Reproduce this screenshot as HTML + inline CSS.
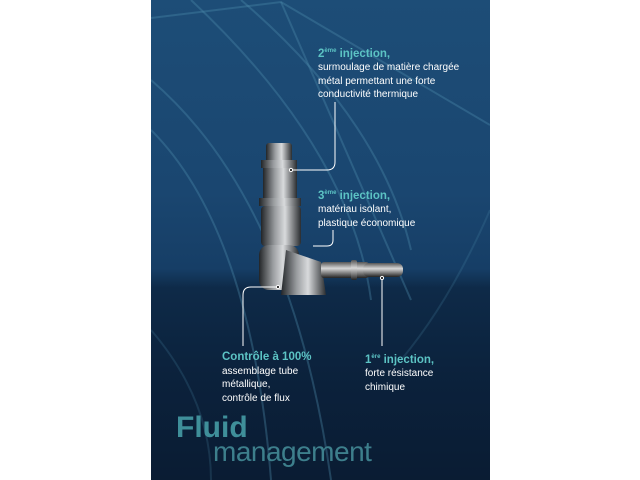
<!DOCTYPE html>
<html><head><meta charset="utf-8"><style>
body{margin:0;width:640px;height:480px;background:#fff;overflow:hidden;position:relative;font-family:"Liberation Sans",sans-serif}
#p{position:absolute;left:151px;top:0;width:339px;height:480px;background:linear-gradient(#1d4d77 0%,#1a4670 40%,#163e66 56%,#0e2a48 60%,#0b213b 80%,#0a1c33 100%);overflow:hidden}
.t{position:absolute;color:#fff;font-size:10px;line-height:13.5px}
.t b{color:#5cc3c4;font-size:11.5px}
.t sup{font-size:6px;color:#5cc3c4;font-weight:bold}
</style></head><body>
<div id="p">
<svg width="339" height="480" style="position:absolute;left:0;top:0">
<defs>
<linearGradient id="m" x1="0" x2="1"><stop offset="0" stop-color="#222528"/><stop offset=".35" stop-color="#9a9da0"/><stop offset=".6" stop-color="#d8dadc"/><stop offset="1" stop-color="#2a2d30"/></linearGradient>
<linearGradient id="h" x1="0" y1="0" x2="0" y2="1"><stop offset="0" stop-color="#555"/><stop offset=".4" stop-color="#d8d8d8"/><stop offset="1" stop-color="#222"/></linearGradient>
</defs>
<g fill="none" stroke="#4f8fb0" stroke-opacity=".35" stroke-width="2">
<path d="M0 18 L130 2 L339 125"/>
<path d="M130 2 L260 300"/>
<path d="M0 80 Q140 200 180 480"/>
<path d="M0 130 Q100 230 120 480"/>
<path d="M40 0 Q200 150 220 300"/>
<path d="M90 0 Q230 120 260 250"/>
<path d="M0 330 Q60 400 60 480" stroke-opacity=".2"/>
<path d="M339 210 Q300 300 250 360" stroke-opacity=".2"/>
</g>
<rect x="115" y="143" width="26" height="20" rx="3" fill="url(#m)"/>
<rect x="110" y="160" width="36" height="8" fill="url(#m)"/>
<rect x="112" y="168" width="34" height="30" fill="url(#m)"/>
<rect x="108" y="198" width="42" height="8" fill="url(#m)"/>
<rect x="110" y="206" width="40" height="40" rx="4" fill="url(#m)"/>
<rect x="108" y="245" width="40" height="45" rx="10" fill="url(#m)"/>
<path d="M135 250 L170 262 L175 295 L130 295 Z" fill="url(#m)"/>
<rect x="170" y="262" width="48" height="16" rx="3" fill="url(#h)"/>
<rect x="200" y="260" width="6" height="20" rx="2" fill="url(#h)"/>
<rect x="212" y="263" width="40" height="14" rx="6" fill="url(#h)"/>
<g fill="none" stroke="#fff" stroke-width="1">
<path d="M184 102 V162 Q184 170 176 170 H140"/>
<path d="M182 230 V240 Q182 246 176 246 H162"/>
<path d="M127 287 H100 Q92 287 92 295 V346"/>
<path d="M231 278 V346"/>
</g>
<g fill="#222" stroke="#fff" stroke-width="1"><circle cx="140" cy="170" r="1.6"/><circle cx="127" cy="287" r="1.6"/><circle cx="231" cy="278" r="1.6"/></g>
</svg>
<div class="t" style="left:167px;top:45px"><b>2<sup>ème</sup> injection,</b><br>surmoulage de matière chargée<br>métal permettant une forte<br>conductivité thermique</div>
<div class="t" style="left:167px;top:187px"><b>3<sup>ème</sup> injection,</b><br>matériau isolant,<br>plastique économique</div>
<div class="t" style="left:71px;top:351px"><b>Contrôle à 100%</b><br>assemblage tube<br>métallique,<br>contrôle de flux</div>
<div class="t" style="left:214px;top:351px"><b>1<sup>ère</sup> injection,</b><br>forte résistance<br>chimique</div>
<div style="position:absolute;left:25px;top:411px;font-size:30px;font-weight:bold;color:#3f8f9a">Fluid</div>
<div style="position:absolute;left:62px;top:436px;font-size:28px;color:#3d7f8c;letter-spacing:-.5px">management</div>
</div>
</body></html>
